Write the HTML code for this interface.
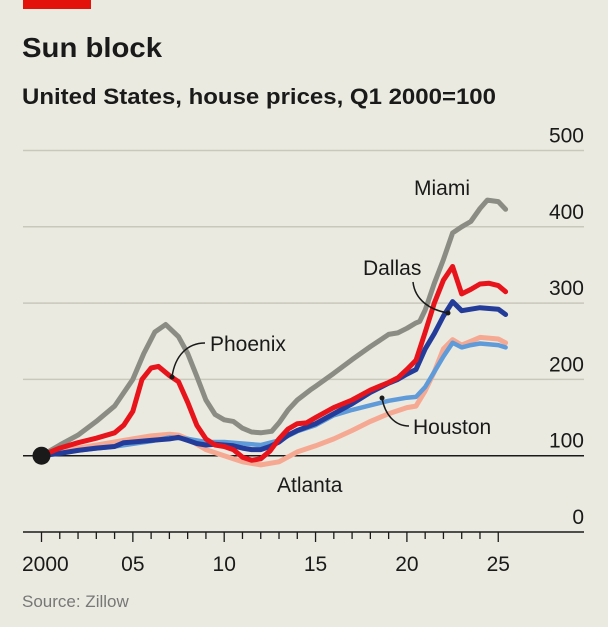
<!DOCTYPE html>
<html><head><meta charset="utf-8">
<style>
html,body{margin:0;padding:0;background:#ebeae0;}
body{width:608px;height:627px;overflow:hidden;font-family:"Liberation Sans",sans-serif;}
svg{display:block}
</style></head>
<body>
<svg width="608" height="627" viewBox="0 0 608 627">
<rect x="0" y="0" width="608" height="627" fill="#ebeae0"/>
<rect x="23" y="0" width="68" height="9" fill="#e3120b"/>
<text x="22" y="57" font-size="28" font-weight="bold" fill="#1a1a1a" textLength="140" lengthAdjust="spacingAndGlyphs">Sun block</text>
<text x="22" y="104" font-size="22" font-weight="bold" fill="#1a1a1a" textLength="474" lengthAdjust="spacingAndGlyphs">United States, house prices, Q1 2000=100</text>
<g id="grid"></g>
<g id="series"></g>
<text x="22" y="607" font-size="17" fill="#777">Source: Zillow</text>
</svg>
<script>
const yTicks=[0,100,200,300,400,500];
const xTickLabels=["2000","05","10","15","20","25"];
const miamiT=[2000,2001,2002,2003,2004,2005,2005.6,2006.2,2006.8,2007.5,2008,2008.5,2009,2009.5,2010,2010.5,2011,2011.5,2012,2012.6,2013,2013.5,2014,2014.7,2015,2016,2017,2018,2019,2019.5,2020,2020.5,2020.7,2021,2021.5,2022,2022.5,2023,2023.5,2024,2024.4,2025,2025.4];
const miamiV=[100,114,127,145,165,200,234,262,272,256,234,204,173,154,147,145,136,131,130,132,143,160,173,186,191,208,226,243,259,261,267,274,276,291,326,357,392,400,407,424,435,433,423];
const phoenixT=[2000,2001,2002,2003,2004,2004.5,2005,2005.5,2006,2006.4,2007,2007.5,2008,2008.5,2009,2009.5,2010,2010.5,2011,2011.5,2012,2012.5,2013,2013.5,2014,2014.5,2015,2016,2017,2018,2019,2019.5,2020,2020.5,2021,2021.5,2022,2022.5,2023,2023.5,2024,2024.5,2025,2025.4];
const phoenixV=[100,110,117,123,130,140,158,200,215,217,205,197,170,140,122,114,112,108,98,94,96,106,122,135,142,143,150,163,173,186,196,202,213,225,262,300,330,348,312,318,325,326,323,315];
const dallasT=[2000,2001,2002,2003,2004,2004.5,2005,2006,2007,2007.5,2008,2008.5,2009,2009.5,2010,2010.5,2011,2011.5,2012,2012.5,2013,2013.5,2014,2015,2016,2017,2018,2019,2019.5,2020,2020.5,2021,2021.5,2022,2022.5,2023,2023.5,2024,2025,2025.4];
const dallasV=[100,103,107,110,112,117,118,120,122,124,120,116,114,115,114,113,110,108,108,112,118,127,133,142,155,168,183,195,200,207,213,240,260,283,302,290,292,294,292,285];
const houstonT=[2000,2002,2004,2006,2007,2008,2009,2010,2011,2012,2013,2014,2015,2016,2017,2018,2019,2020,2020.5,2021,2021.5,2022,2022.5,2023,2023.5,2024,2025,2025.4];
const houstonV=[100,107,112,119,124,122,118,118,116,114,120,132,140,153,160,166,172,176,177,190,210,230,248,242,245,247,245,242];
const atlantaT=[2000,2002,2004,2005,2006,2007,2007.5,2008,2009,2010,2011,2012,2013,2014,2015,2016,2017,2018,2019,2020,2020.5,2021,2021.5,2022,2022.5,2023,2023.5,2024,2025,2025.4];
const atlantaV=[100,110,118,122,126,128,127,122,108,100,92,88,92,105,113,122,133,145,155,163,165,185,210,240,252,245,250,255,253,248];

const NS="http://www.w3.org/2000/svg";
function xS(t){return 41.5+18.27*(t-2000);}
function yS(v){return 532-0.763*v;}
function mk(tag,attrs,parent){const e=document.createElementNS(NS,tag);for(const k in attrs)e.setAttribute(k,attrs[k]);parent.appendChild(e);return e;}
const grid=document.getElementById('grid');
yTicks.forEach(v=>{
  if(v>0&&v!==100){
    const l=mk('line',{x1:23,x2:584,y1:yS(v),y2:yS(v),stroke:'#c9c8bc','stroke-width':1.5},grid);
    
    
  }
  const t=mk('text',{x:584,y:yS(v)-8,'font-size':21,'text-anchor':'end',fill:'#1a1a1a'},grid);
  t.textContent=v;
  
  
});
const base=mk('line',{x1:23,x2:584,y1:yS(100),y2:yS(100),stroke:'#1a1a1a','stroke-width':1.5},grid);


const ax=mk('line',{x1:23,x2:584,y1:532,y2:532,stroke:'#1a1a1a','stroke-width':1.5},grid);


for(let yr=2000;yr<=2025;yr++){
  const tk=mk('line',{x1:xS(yr),x2:xS(yr),y1:532,y2:(yr%5===0?542:539),stroke:'#1a1a1a','stroke-width':1.3},grid);
  
  
}
xTickLabels.forEach((s,i)=>{
  const yr=2000+5*i;
  const t=mk('text',{x:i===0?22:xS(yr),y:571,'font-size':21,'text-anchor':i===0?'start':'middle',fill:'#1a1a1a'},grid);
  t.textContent=s;
  
  
});
const ser=document.getElementById('series');
function line(T,V,color,w,name){
  const pts=T.map((t,i)=>xS(t).toFixed(1)+','+yS(V[i]).toFixed(1)).join(' ');
  const p=mk('polyline',{points:pts,fill:'none',stroke:color,'stroke-width':w,'stroke-linejoin':'round','stroke-linecap':'round'},ser);
  
  
}
line(atlantaT,atlantaV,'#f6a992',5,'atlanta-line');
line(houstonT,houstonV,'#5f9bd8',4.5,'houston-line');
line(dallasT,dallasV,'#233c99',5,'dallas-line');
line(miamiT,miamiV,'#8b8c83',5,'miami-line');
line(phoenixT,phoenixV,'#e8141c',5,'phoenix-line');
const dot=mk('circle',{cx:xS(2000),cy:yS(100),r:9,fill:'#1a1a1a'},ser);


</script>
<svg style="position:absolute;left:0;top:0" width="608" height="627">
<g font-family="Liberation Sans, sans-serif" font-size="21" fill="#1a1a1a">
<text x="414" y="195">Miami</text>
<text x="363" y="275">Dallas</text>
<text x="210" y="351">Phoenix</text>
<text x="413" y="434">Houston</text>
<text x="277" y="492">Atlanta</text>
</g>
<g fill="none" stroke="#1a1a1a" stroke-width="1.5">
<path d="M413,282 C415,300 430,310 448,313"/>
<path d="M172,377 C175,355 188,343 205,343"/>
<path d="M382,398 C385,415 395,426 409,426"/>
</g>
<circle cx="448" cy="313" r="2.5" fill="#1a1a1a"/>
<circle cx="172" cy="377" r="2.5" fill="#1a1a1a"/>
<circle cx="382" cy="398" r="2.5" fill="#1a1a1a"/>
</svg>
</body></html>
